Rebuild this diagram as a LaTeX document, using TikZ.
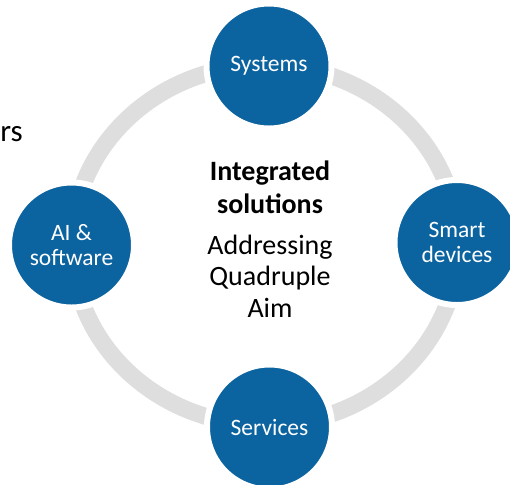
\documentclass[tikz,border=0pt]{standalone}
\usepackage{fontspec}
\setmainfont{Carlito}
\definecolor{ringgray}{HTML}{DEDEDE}
\definecolor{aimblue}{HTML}{0B63A0}
\begin{document}
\begin{tikzpicture}[line cap=round,line join=round,x=0.5pt,y=-0.5pt,
  hub/.style={circle,fill=aimblue,draw=white,line width=3pt,minimum size=62.5pt,inner sep=0pt,
    text=white,align=center,font=\fontsize{11.75}{12.5}\selectfont}]
\useasboundingbox (0,0) rectangle (510,484);
\clip (0,0) rectangle (510,484);
%\draw [help lines,step=50] (0,0) grid (510,484);
\node[font=\fontsize{15.5}{18}\selectfont,anchor=base west,inner sep=0pt] (cut) at (0,141) {rs};
\draw[ringgray,line width=8.5pt] (265,245) ellipse [x radius=193,y radius=180];
\node[hub] (sys) at (269,66) {Systems};
\node[hub] (soft) at (71.5,245) {AI \&\\software};
\node[hub] (dev) at (457,242.5) {Smart\\devices};
\node[hub] (serv) at (269.5,427) {Services};
\node[font=\bfseries\fontsize{14}{16.5}\selectfont,align=center] (title) at (270,187) {Integrated\\solutions};
\node[font=\fontsize{14}{15.75}\selectfont,align=center] (aim) at (270,276) {Addressing\\Quadruple\\Aim};
\end{tikzpicture}
\end{document}
